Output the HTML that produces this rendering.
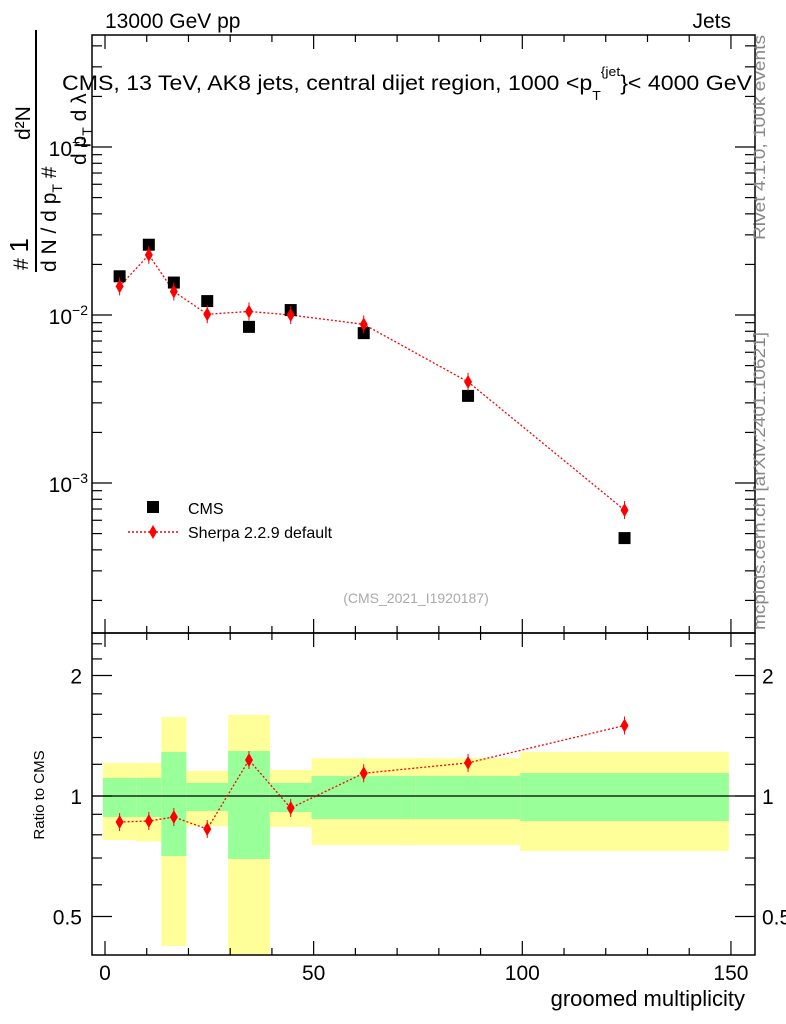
<!DOCTYPE html>
<html><head><meta charset="utf-8"><style>
html,body{margin:0;padding:0;background:#fff;}
svg{display:block;font-family:"Liberation Sans",sans-serif;}
</style></head><body>
<svg id="chart" width="786" height="1024" viewBox="0 0 786 1024" xmlns="http://www.w3.org/2000/svg">
<g id="bands"></g>
<g id="marks"></g>
<g id="axes"></g>
<text x="105" y="28" font-size="21">13000 GeV pp</text>
<text x="731" y="28" font-size="21" text-anchor="end">Jets</text>
<text x="62" y="90" font-size="21.5" textLength="690" lengthAdjust="spacingAndGlyphs">CMS, 13 TeV, AK8 jets, central dijet region, 1000 &lt;p<tspan dy="10" font-size="13">T</tspan><tspan dy="-24" font-size="13">{jet</tspan><tspan dy="14">}&lt; 4000 GeV</tspan></text>
<g font-size="21">
<text transform="translate(28,270) rotate(-90)"># <tspan font-size="26">1</tspan></text>
<line x1="36" y1="272" x2="36" y2="30" stroke="#000" stroke-width="2"/>
<text transform="translate(56,272) rotate(-90)">d N / d p<tspan font-size="14" dy="6">T</tspan><tspan dy="-6"> #</tspan></text>
<text transform="translate(30,140) rotate(-90)">d²N</text>
<text transform="translate(86,165) rotate(-90)">d p<tspan font-size="14" dy="6">T</tspan><tspan dy="-6">  d λ</tspan></text>
</g>
<text transform="translate(44,795) rotate(-90)" font-size="15" text-anchor="middle">Ratio to CMS</text>
<text x="745" y="1006" font-size="22" text-anchor="end">groomed multiplicity</text>
<text transform="translate(765,240) rotate(-90)" font-size="17" fill="#888" textLength="205" lengthAdjust="spacingAndGlyphs">Rivet 4.1.0,  100k events</text>
<text transform="translate(765,630) rotate(-90)" font-size="17" fill="#888" textLength="298" lengthAdjust="spacingAndGlyphs">mcplots.cern.ch [arXiv:2401.10621]</text>
<text x="416" y="603" font-size="14" fill="#aaa" text-anchor="middle">(CMS_2021_I1920187)</text>
<g>
<rect x="147" y="501" width="12" height="12" fill="#000"/>
<text x="188" y="514" font-size="16">CMS</text>
<line x1="128" y1="532" x2="178" y2="532" stroke="#f00" stroke-width="1.5" stroke-dasharray="2,2"/>
<path d="M153,525 L157,532 L153,539 L149,532 Z" fill="#f00"/>
<text x="188" y="538" font-size="16">Sherpa 2.2.9 default</text>
</g>
</svg>
<script>
const binEdges=[-0.5,7.5,13.5,19.5,29.5,39.5,49.5,74.5,99.5,149.5];
const xCenters=[3.5,10.5,16.5,24.5,34.5,44.5,62,87,124.5];
const cmsValues=[0.0170,0.0262,0.0156,0.0121,0.0085,0.0107,0.0078,0.0033,0.00047];
const sherpaValues=[0.0148,0.0228,0.0138,0.0101,0.0105,0.0100,0.0088,0.0040,0.00069];
const sherpaRatio=[0.861,0.866,0.886,0.827,1.23,0.933,1.14,1.21,1.50];
const greenHi=[1.109,1.109,1.288,1.078,1.295,1.078,1.122,1.122,1.141];
const greenLo=[0.886,0.886,0.708,0.917,0.696,0.912,0.876,0.876,0.866];
const yellowHi=[1.209,1.209,1.575,1.155,1.594,1.161,1.244,1.244,1.288];
const yellowLo=[0.776,0.770,0.422,0.841,0.403,0.837,0.754,0.754,0.729];
const xTicks=[0,50,100,150];
const yTopTicks=[-1,-2,-3];
const ratioTicks=[2,1,0.5];
const ratioTickLabels=["2","1","0.5"];

const NS="http://www.w3.org/2000/svg";
const L=92,R=755,T=35,M=633,B=955;
const X=v=>105+v*4.173;
const Y=v=>315-(Math.log10(v)+2)*168;
const YR=r=>796-Math.log2(r)*120.5;
function mk(tag,attrs,parent){const e=document.createElementNS(NS,tag);for(const k in attrs)e.setAttribute(k,attrs[k]);parent.appendChild(e);return e;}
const bands=document.getElementById('bands'),marks=document.getElementById('marks'),axes=document.getElementById('axes');
for(let i=0;i<xCenters.length;i++){
 const x0=X(binEdges[i]),x1=X(binEdges[i+1]);
 const y=mk('rect',{x:x0,y:YR(yellowHi[i]),width:x1-x0,height:YR(yellowLo[i])-YR(yellowHi[i]),fill:'#ffff99'},bands);
 
 
 const g=mk('rect',{x:x0,y:YR(greenHi[i]),width:x1-x0,height:YR(greenLo[i])-YR(greenHi[i]),fill:'#99ff99'},bands);
 
 
}
const one=mk('line',{x1:L,x2:R,y1:YR(1),y2:YR(1),stroke:'#000','stroke-width':1.2},bands);


const p1=mk('polyline',{points:xCenters.map((x,i)=>X(x)+','+Y(sherpaValues[i])).join(' '),fill:'none',stroke:'#f00','stroke-width':1.3,'stroke-dasharray':'2,2'},marks);


const p2=mk('polyline',{points:xCenters.map((x,i)=>X(x)+','+YR(sherpaRatio[i])).join(' '),fill:'none',stroke:'#f00','stroke-width':1.3,'stroke-dasharray':'2,2'},marks);


function dia(cx,cy,name){const d=mk('path',{d:`M${cx},${cy-7} L${cx+4},${cy} L${cx},${cy+7} L${cx-4},${cy} Z`,fill:'#f00'},marks);
 
 
 mk('line',{x1:cx,x2:cx,y1:cy-9,y2:cy+9,stroke:'#f00','stroke-width':1},marks);}
for(let i=0;i<xCenters.length;i++){
 const s=mk('rect',{x:X(xCenters[i])-6,y:Y(cmsValues[i])-6,width:12,height:12,fill:'#000'},marks);
 
 
 dia(X(xCenters[i]),Y(sherpaValues[i]),'sherpa-point');
 dia(X(xCenters[i]),YR(sherpaRatio[i]),'sherpa-ratio-point');
}
const f1=mk('rect',{x:L,y:T,width:R-L,height:M-T,fill:'none',stroke:'#000','stroke-width':1.5},axes);


const f2=mk('rect',{x:L,y:M,width:R-L,height:B-M,fill:'none',stroke:'#000','stroke-width':1.5},axes);


function ln(a,b,c,d){mk('line',{x1:a,y1:b,x2:c,y2:d,stroke:'#000','stroke-width':1.2},axes);}
for(let v=0;v<=150;v+=10){const x=X(v);if(x>R)break;const len=(v%50===0)?14:7;
 ln(x,T,x,T+len);ln(x,M,x,M-len);ln(x,M,x,M+len);ln(x,B,x,B-len);}
for(let e=-4;e<=-1;e++)for(let k=1;k<10;k++){const y=Y(k*Math.pow(10,e));if(y<T||y>M)continue;const len=k===1?20:10;ln(L,y,L+len,y);ln(R,y,R-len,y);}
for(const r of [0.4,0.5,0.6,0.7,0.8,0.9,1,1.2,1.4,1.6,1.8,2,2.2,2.4]){const y=YR(r);if(y<M||y>B)continue;const len=(r===1||r===2||r===0.5)?20:10;ln(L,y,L+len,y);ln(R,y,R-len,y);}
xTicks.forEach(v=>{const t=mk('text',{x:X(v),y:980,'font-size':21,'text-anchor':'middle'},axes);t.textContent=String(v);
 
 });
yTopTicks.forEach(e=>{const t=mk('text',{x:88,y:Y(Math.pow(10,e))+9,'font-size':21,'text-anchor':'end'},axes);
 
 
 t.innerHTML='10<tspan dy="-9" font-size="14">−'+(-e)+'</tspan>';});
ratioTicks.forEach((r,i)=>{for(const [x,a] of [[82,'end'],[762,'start']]){const t=mk('text',{x:x,y:YR(r)+8,'font-size':21,'text-anchor':a},axes);t.textContent=ratioTickLabels[i];
 
 }});
</script>
</body></html>
